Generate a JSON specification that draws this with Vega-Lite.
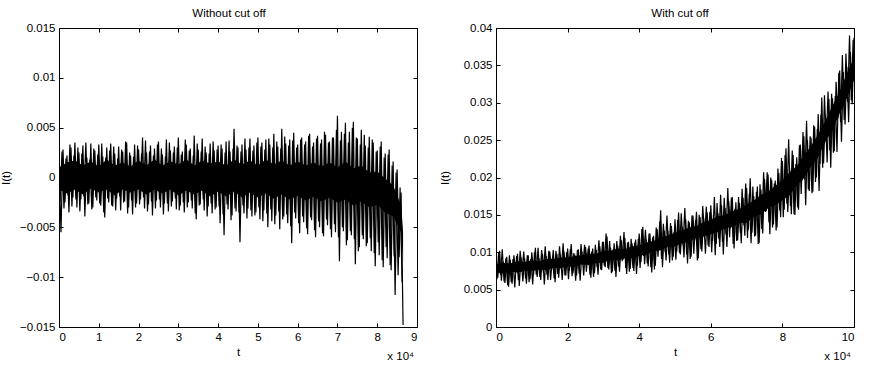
{
"$schema": "https://vega.github.io/schema/vega-lite/v6.json",
"padding": {"left": 0, "top": 7, "right": 5, "bottom": 5},
"bounds": "flush",
"spacing": 79,
"config": {
  "font": "Liberation Sans",
  "view": {"stroke": null},
  "axis": {"domainColor": "#000", "domainWidth": 1, "tickColor": "#000", "tickSize": -4, "tickWidth": 1, "labelFontSize": 11.5, "labelColor": "#000", "titleFontSize": 11.5, "titleFontWeight": "normal", "titleColor": "#000", "grid": false},
  "title": {"fontSize": 11.5, "fontWeight": "normal", "color": "#000", "offset": 3, "frame": "group"},
  "text": {"font": "Liberation Sans", "fontSize": 11.5}
},
"datasets": {
"a": [
{"s":1,"t":0,"v":0.0015},{"s":1,"t":0.05,"v":-0.0055},{"s":1,"t":0.1,"v":0.0028},{"s":1,"t":0.15,"v":-0.0025},{"s":1,"t":0.2,"v":0.0022},{"s":1,"t":0.25,"v":-0.0035},{"s":1,"t":0.3,"v":0.003},{"s":1,"t":0.35,"v":-0.002},{"s":1,"t":0.4,"v":0.0035},{"s":1,"t":0.45,"v":-0.003},
{"s":1,"t":0.5,"v":0.0025},{"s":1,"t":0.55,"v":-0.0022},{"s":1,"t":0.6,"v":0.0032},{"s":1,"t":0.65,"v":-0.0039},{"s":1,"t":0.7,"v":0.002},{"s":1,"t":0.75,"v":-0.0026},{"s":1,"t":0.8,"v":0.0034},{"s":1,"t":0.85,"v":-0.003},{"s":1,"t":0.9,"v":0.0027},{"s":1,"t":0.95,"v":-0.0023},
{"s":1,"t":1,"v":0.0033},{"s":1,"t":1.05,"v":-0.0028},{"s":1,"t":1.1,"v":0.0021},{"s":1,"t":1.15,"v":-0.004},{"s":1,"t":1.2,"v":0.003},{"s":1,"t":1.25,"v":-0.0025},{"s":1,"t":1.3,"v":0.0034},{"s":1,"t":1.35,"v":-0.0029},{"s":1,"t":1.4,"v":0.0024},{"s":1,"t":1.45,"v":-0.0021},
{"s":1,"t":1.5,"v":0.0031},{"s":1,"t":1.55,"v":-0.0033},{"s":1,"t":1.6,"v":0.0026},{"s":1,"t":1.65,"v":-0.0024},{"s":1,"t":1.7,"v":0.0035},{"s":1,"t":1.75,"v":-0.003},{"s":1,"t":1.8,"v":0.0022},{"s":1,"t":1.85,"v":-0.0037},{"s":1,"t":1.9,"v":0.0033},{"s":1,"t":1.95,"v":-0.0026},
{"s":1,"t":2,"v":0.0028},{"s":1,"t":2.05,"v":-0.0022},{"s":1,"t":2.1,"v":0.004},{"s":1,"t":2.15,"v":-0.0031},{"s":1,"t":2.2,"v":0.0025},{"s":1,"t":2.25,"v":-0.0027},{"s":1,"t":2.3,"v":0.0032},{"s":1,"t":2.35,"v":-0.0038},{"s":1,"t":2.4,"v":0.0029},{"s":1,"t":2.45,"v":-0.0023},
{"s":1,"t":2.5,"v":0.0036},{"s":1,"t":2.55,"v":-0.003},{"s":1,"t":2.6,"v":0.0023},{"s":1,"t":2.65,"v":-0.0026},{"s":1,"t":2.7,"v":0.0038},{"s":1,"t":2.75,"v":-0.0034},{"s":1,"t":2.8,"v":0.0027},{"s":1,"t":2.85,"v":-0.0024},{"s":1,"t":2.9,"v":0.0031},{"s":1,"t":2.95,"v":-0.0032},
{"s":1,"t":3,"v":0.004},{"s":1,"t":3.05,"v":-0.0028},{"s":1,"t":3.1,"v":0.0026},{"s":1,"t":3.15,"v":-0.0035},{"s":1,"t":3.2,"v":0.0033},{"s":1,"t":3.25,"v":-0.0025},{"s":1,"t":3.3,"v":0.0029},{"s":1,"t":3.35,"v":-0.0031},{"s":1,"t":3.4,"v":0.0042},{"s":1,"t":3.45,"v":-0.0042},
{"s":1,"t":3.5,"v":0.0028},{"s":1,"t":3.55,"v":-0.0027},{"s":1,"t":3.6,"v":0.0039},{"s":1,"t":3.65,"v":-0.0033},{"s":1,"t":3.7,"v":0.0025},{"s":1,"t":3.75,"v":-0.0029},{"s":1,"t":3.8,"v":0.0034},{"s":1,"t":3.85,"v":-0.0036},{"s":1,"t":3.9,"v":0.0027},{"s":1,"t":3.95,"v":-0.003},
{"s":1,"t":4,"v":0.0032},{"s":1,"t":4.05,"v":-0.0046},{"s":1,"t":4.1,"v":0.0029},{"s":1,"t":4.15,"v":-0.0058},{"s":1,"t":4.2,"v":0.0036},{"s":1,"t":4.25,"v":-0.0032},{"s":1,"t":4.3,"v":0.0026},{"s":1,"t":4.35,"v":-0.0038},{"s":1,"t":4.4,"v":0.0049},{"s":1,"t":4.45,"v":-0.0034},
{"s":1,"t":4.5,"v":0.003},{"s":1,"t":4.55,"v":-0.0065},{"s":1,"t":4.6,"v":0.0033},{"s":1,"t":4.65,"v":-0.0036},{"s":1,"t":4.7,"v":0.0028},{"s":1,"t":4.75,"v":-0.0031},{"s":1,"t":4.8,"v":0.0039},{"s":1,"t":4.85,"v":-0.0039},{"s":1,"t":4.9,"v":0.0032},{"s":1,"t":4.95,"v":-0.0035},
{"s":1,"t":5,"v":0.004},{"s":1,"t":5.05,"v":-0.0042},{"s":1,"t":5.1,"v":0.0035},{"s":1,"t":5.15,"v":-0.0033},{"s":1,"t":5.2,"v":0.0038},{"s":1,"t":5.25,"v":-0.005},{"s":1,"t":5.3,"v":0.0033},{"s":1,"t":5.35,"v":-0.0044},{"s":1,"t":5.4,"v":0.0044},{"s":1,"t":5.45,"v":-0.0038},
{"s":1,"t":5.5,"v":0.0031},{"s":1,"t":5.55,"v":-0.0052},{"s":1,"t":5.6,"v":0.0049},{"s":1,"t":5.65,"v":-0.0039},{"s":1,"t":5.7,"v":0.0034},{"s":1,"t":5.75,"v":-0.0046},{"s":1,"t":5.8,"v":0.0038},{"s":1,"t":5.85,"v":-0.0066},{"s":1,"t":5.9,"v":0.0045},{"s":1,"t":5.95,"v":-0.0041},
{"s":1,"t":6,"v":0.0033},{"s":1,"t":6.05,"v":-0.0056},{"s":1,"t":6.1,"v":0.004},{"s":1,"t":6.15,"v":-0.0045},{"s":1,"t":6.2,"v":0.0036},{"s":1,"t":6.25,"v":-0.0057},{"s":1,"t":6.3,"v":0.0044},{"s":1,"t":6.35,"v":-0.0043},{"s":1,"t":6.4,"v":0.0035},{"s":1,"t":6.45,"v":-0.006},
{"s":1,"t":6.5,"v":0.0042},{"s":1,"t":6.55,"v":-0.005},{"s":1,"t":6.6,"v":0.0038},{"s":1,"t":6.65,"v":-0.0059},{"s":1,"t":6.7,"v":0.0043},{"s":1,"t":6.75,"v":-0.0048},{"s":1,"t":6.8,"v":0.0036},{"s":1,"t":6.85,"v":-0.006},{"s":1,"t":6.9,"v":0.004},{"s":1,"t":6.95,"v":-0.0055},
{"s":1,"t":7,"v":0.0062},{"s":1,"t":7.05,"v":-0.0084},{"s":1,"t":7.1,"v":0.0046},{"s":1,"t":7.15,"v":-0.0054},{"s":1,"t":7.2,"v":0.0055},{"s":1,"t":7.25,"v":-0.0063},{"s":1,"t":7.3,"v":0.0046},{"s":1,"t":7.35,"v":-0.0058},{"s":1,"t":7.4,"v":0.0056},{"s":1,"t":7.45,"v":-0.0087},
{"s":1,"t":7.5,"v":0.0039},{"s":1,"t":7.55,"v":-0.007},{"s":1,"t":7.6,"v":0.0048},{"s":1,"t":7.65,"v":-0.0062},{"s":1,"t":7.7,"v":0.0032},{"s":1,"t":7.75,"v":-0.0066},{"s":1,"t":7.8,"v":0.0041},{"s":1,"t":7.85,"v":-0.0074},{"s":1,"t":7.9,"v":0.0035},{"s":1,"t":7.95,"v":-0.0089},
{"s":1,"t":8,"v":0.0027},{"s":1,"t":8.05,"v":-0.0078},{"s":1,"t":8.1,"v":0.0036},{"s":1,"t":8.15,"v":-0.009},{"s":1,"t":8.2,"v":0.0024},{"s":1,"t":8.25,"v":-0.0081},{"s":1,"t":8.3,"v":0.0028},{"s":1,"t":8.35,"v":-0.0093},{"s":1,"t":8.4,"v":0.0016},{"s":1,"t":8.45,"v":-0.0118},
{"s":1,"t":8.5,"v":0.0008},{"s":1,"t":8.55,"v":-0.008},{"s":1,"t":8.6,"v":-0.0015},{"s":1,"t":8.65,"v":-0.0148},
{"s":2,"t":0.025,"v":-0.0024},{"s":2,"t":0.075,"v":0.0026},{"s":2,"t":0.125,"v":-0.0031},{"s":2,"t":0.175,"v":0.0019},{"s":2,"t":0.225,"v":-0.0018},{"s":2,"t":0.275,"v":0.0033},{"s":2,"t":0.325,"v":-0.0029},{"s":2,"t":0.375,"v":0.0022},{"s":2,"t":0.425,"v":-0.0022},{"s":2,"t":0.475,"v":0.003},
{"s":2,"t":0.525,"v":-0.0034},{"s":2,"t":0.575,"v":0.0024},{"s":2,"t":0.625,"v":-0.0019},{"s":2,"t":0.675,"v":0.0035},{"s":2,"t":0.725,"v":-0.0027},{"s":2,"t":0.775,"v":0.0018},{"s":2,"t":0.825,"v":-0.0032},{"s":2,"t":0.875,"v":0.0029},{"s":2,"t":0.925,"v":-0.002},{"s":2,"t":0.975,"v":0.0023},
{"s":2,"t":1.025,"v":-0.0026},{"s":2,"t":1.075,"v":0.0034},{"s":2,"t":1.125,"v":-0.0035},{"s":2,"t":1.175,"v":0.002},{"s":2,"t":1.225,"v":-0.0021},{"s":2,"t":1.275,"v":0.0027},{"s":2,"t":1.325,"v":-0.0028},{"s":2,"t":1.375,"v":0.0031},{"s":2,"t":1.425,"v":-0.0033},{"s":2,"t":1.475,"v":0.0019},
{"s":2,"t":1.525,"v":-0.0019},{"s":2,"t":1.575,"v":0.0028},{"s":2,"t":1.625,"v":-0.0025},{"s":2,"t":1.675,"v":0.0036},{"s":2,"t":1.725,"v":-0.0036},{"s":2,"t":1.775,"v":0.0025},{"s":2,"t":1.825,"v":-0.0023},{"s":2,"t":1.875,"v":0.0021},{"s":2,"t":1.925,"v":-0.003},{"s":2,"t":1.975,"v":0.0032},
{"s":2,"t":2.025,"v":-0.0027},{"s":2,"t":2.075,"v":0.0024},{"s":2,"t":2.125,"v":-0.002},{"s":2,"t":2.175,"v":0.0037},{"s":2,"t":2.225,"v":-0.0034},{"s":2,"t":2.275,"v":0.0026},{"s":2,"t":2.325,"v":-0.0024},{"s":2,"t":2.375,"v":0.0022},{"s":2,"t":2.425,"v":-0.0031},{"s":2,"t":2.475,"v":0.0033},
{"s":2,"t":2.525,"v":-0.0022},{"s":2,"t":2.575,"v":0.0029},{"s":2,"t":2.625,"v":-0.0037},{"s":2,"t":2.675,"v":0.0021},{"s":2,"t":2.725,"v":-0.0026},{"s":2,"t":2.775,"v":0.0035},{"s":2,"t":2.825,"v":-0.0029},{"s":2,"t":2.875,"v":0.0025},{"s":2,"t":2.925,"v":-0.0021},{"s":2,"t":2.975,"v":0.003},
{"s":2,"t":3.025,"v":-0.0033},{"s":2,"t":3.075,"v":0.0023},{"s":2,"t":3.125,"v":-0.0025},{"s":2,"t":3.175,"v":0.0038},{"s":2,"t":3.225,"v":-0.003},{"s":2,"t":3.275,"v":0.0027},{"s":2,"t":3.325,"v":-0.0023},{"s":2,"t":3.375,"v":0.0022},{"s":2,"t":3.425,"v":-0.0036},{"s":2,"t":3.475,"v":0.0034},
{"s":2,"t":3.525,"v":-0.0028},{"s":2,"t":3.575,"v":0.0026},{"s":2,"t":3.625,"v":-0.0022},{"s":2,"t":3.675,"v":0.0031},{"s":2,"t":3.725,"v":-0.0039},{"s":2,"t":3.775,"v":0.0024},{"s":2,"t":3.825,"v":-0.0026},{"s":2,"t":3.875,"v":0.0036},{"s":2,"t":3.925,"v":-0.0032},{"s":2,"t":3.975,"v":0.0028},
{"s":2,"t":4.025,"v":-0.0029},{"s":2,"t":4.075,"v":0.0033},{"s":2,"t":4.125,"v":-0.0037},{"s":2,"t":4.175,"v":0.0025},{"s":2,"t":4.225,"v":-0.0027},{"s":2,"t":4.275,"v":0.0037},{"s":2,"t":4.325,"v":-0.0043},{"s":2,"t":4.375,"v":0.0029},{"s":2,"t":4.425,"v":-0.0031},{"s":2,"t":4.475,"v":0.0032},
{"s":2,"t":4.525,"v":-0.0035},{"s":2,"t":4.575,"v":0.0026},{"s":2,"t":4.625,"v":-0.0028},{"s":2,"t":4.675,"v":0.0039},{"s":2,"t":4.725,"v":-0.0041},{"s":2,"t":4.775,"v":0.003},{"s":2,"t":4.825,"v":-0.0033},{"s":2,"t":4.875,"v":0.0027},{"s":2,"t":4.925,"v":-0.0038},{"s":2,"t":4.975,"v":0.0035},
{"s":2,"t":5.025,"v":-0.003},{"s":2,"t":5.075,"v":0.0031},{"s":2,"t":5.125,"v":-0.0044},{"s":2,"t":5.175,"v":0.0028},{"s":2,"t":5.225,"v":-0.0036},{"s":2,"t":5.275,"v":0.0039},{"s":2,"t":5.325,"v":-0.0032},{"s":2,"t":5.375,"v":0.003},{"s":2,"t":5.425,"v":-0.0047},{"s":2,"t":5.475,"v":0.0036},
{"s":2,"t":5.525,"v":-0.0034},{"s":2,"t":5.575,"v":0.0029},{"s":2,"t":5.625,"v":-0.0042},{"s":2,"t":5.675,"v":0.0041},{"s":2,"t":5.725,"v":-0.0037},{"s":2,"t":5.775,"v":0.0032},{"s":2,"t":5.825,"v":-0.0049},{"s":2,"t":5.875,"v":0.0037},{"s":2,"t":5.925,"v":-0.0035},{"s":2,"t":5.975,"v":0.003},
{"s":2,"t":6.025,"v":-0.0046},{"s":2,"t":6.075,"v":0.0038},{"s":2,"t":6.125,"v":-0.0039},{"s":2,"t":6.175,"v":0.0033},{"s":2,"t":6.225,"v":-0.0051},{"s":2,"t":6.275,"v":0.0042},{"s":2,"t":6.325,"v":-0.004},{"s":2,"t":6.375,"v":0.0031},{"s":2,"t":6.425,"v":-0.0053},{"s":2,"t":6.475,"v":0.0039},
{"s":2,"t":6.525,"v":-0.0044},{"s":2,"t":6.575,"v":0.0034},{"s":2,"t":6.625,"v":-0.0056},{"s":2,"t":6.675,"v":0.0046},{"s":2,"t":6.725,"v":-0.0042},{"s":2,"t":6.775,"v":0.0035},{"s":2,"t":6.825,"v":-0.0052},{"s":2,"t":6.875,"v":0.004},{"s":2,"t":6.925,"v":-0.0047},{"s":2,"t":6.975,"v":0.0048},
{"s":2,"t":7.025,"v":-0.006},{"s":2,"t":7.075,"v":0.0037},{"s":2,"t":7.125,"v":-0.005},{"s":2,"t":7.175,"v":0.0044},{"s":2,"t":7.225,"v":-0.0068},{"s":2,"t":7.275,"v":0.0035},{"s":2,"t":7.325,"v":-0.0054},{"s":2,"t":7.375,"v":0.005},{"s":2,"t":7.425,"v":-0.0062},{"s":2,"t":7.475,"v":0.004},
{"s":2,"t":7.525,"v":-0.0074},{"s":2,"t":7.575,"v":0.0033},{"s":2,"t":7.625,"v":-0.0058},{"s":2,"t":7.675,"v":0.0043},{"s":2,"t":7.725,"v":-0.0069},{"s":2,"t":7.775,"v":0.003},{"s":2,"t":7.825,"v":-0.0061},{"s":2,"t":7.875,"v":0.0038},{"s":2,"t":7.925,"v":-0.0076},{"s":2,"t":7.975,"v":0.0026},
{"s":2,"t":8.025,"v":-0.0065},{"s":2,"t":8.075,"v":0.0031},{"s":2,"t":8.125,"v":-0.0083},{"s":2,"t":8.175,"v":0.002},{"s":2,"t":8.225,"v":-0.007},{"s":2,"t":8.275,"v":0.0023},{"s":2,"t":8.325,"v":-0.0088},{"s":2,"t":8.375,"v":0.0012},{"s":2,"t":8.425,"v":-0.0079},{"s":2,"t":8.475,"v":0.0005},
{"s":2,"t":8.525,"v":-0.0098},{"s":2,"t":8.575,"v":-0.001},{"s":2,"t":8.625,"v":-0.0105}
],
"ac": [
{"t":0,"lo":-0.0012,"hi":0.001},{"t":0.2,"lo":-0.0016,"hi":0.0015},{"t":0.4,"lo":-0.0012,"hi":0.0017},{"t":0.6,"lo":-0.0017,"hi":0.0012},{"t":0.8,"lo":-0.0011,"hi":0.0016},
{"t":1,"lo":-0.0015,"hi":0.0011},{"t":1.2,"lo":-0.0012,"hi":0.0018},{"t":1.4,"lo":-0.0018,"hi":0.0012},{"t":1.6,"lo":-0.0012,"hi":0.0015},{"t":1.8,"lo":-0.0015,"hi":0.0011},
{"t":2,"lo":-0.0012,"hi":0.0017},{"t":2.2,"lo":-0.0017,"hi":0.0012},{"t":2.4,"lo":-0.0012,"hi":0.0018},{"t":2.6,"lo":-0.0016,"hi":0.0012},{"t":2.8,"lo":-0.0012,"hi":0.0016},
{"t":3,"lo":-0.0018,"hi":0.0013},{"t":3.2,"lo":-0.0013,"hi":0.0018},{"t":3.4,"lo":-0.0017,"hi":0.0012},{"t":3.6,"lo":-0.0013,"hi":0.0017},{"t":3.8,"lo":-0.0019,"hi":0.0014},
{"t":4,"lo":-0.0014,"hi":0.0016},{"t":4.2,"lo":-0.0019,"hi":0.0012},{"t":4.4,"lo":-0.0014,"hi":0.0018},{"t":4.6,"lo":-0.002,"hi":0.0013},{"t":4.8,"lo":-0.0015,"hi":0.0017},
{"t":5,"lo":-0.002,"hi":0.0012},{"t":5.2,"lo":-0.0016,"hi":0.0018},{"t":5.4,"lo":-0.0021,"hi":0.0013},{"t":5.6,"lo":-0.0017,"hi":0.0017},{"t":5.8,"lo":-0.0022,"hi":0.0012},
{"t":6,"lo":-0.0018,"hi":0.0016},{"t":6.2,"lo":-0.0023,"hi":0.0012},{"t":6.4,"lo":-0.0019,"hi":0.0015},{"t":6.6,"lo":-0.0024,"hi":0.0011},{"t":6.8,"lo":-0.002,"hi":0.0015},
{"t":7,"lo":-0.0025,"hi":0.001},{"t":7.2,"lo":-0.0022,"hi":0.0016},{"t":7.4,"lo":-0.0028,"hi":0.0009},{"t":7.6,"lo":-0.0024,"hi":0.0012},{"t":7.8,"lo":-0.003,"hi":0.0005},
{"t":8,"lo":-0.0027,"hi":0.0006},{"t":8.2,"lo":-0.0035,"hi":-0.0001},{"t":8.4,"lo":-0.0039,"hi":-0.0008},{"t":8.6,"lo":-0.0055,"hi":-0.0028},{"t":8.65,"lo":-0.0085,"hi":-0.0055}
],
"b": [
{"s":1,"t":0,"v":0.0096},{"s":1,"t":0.05,"v":0.0066},{"s":1,"t":0.1,"v":0.0102},{"s":1,"t":0.15,"v":0.0062},{"s":1,"t":0.2,"v":0.0088},{"s":1,"t":0.25,"v":0.0059},{"s":1,"t":0.3,"v":0.0094},{"s":1,"t":0.35,"v":0.0054},{"s":1,"t":0.4,"v":0.009},{"s":1,"t":0.45,"v":0.0058},
{"s":1,"t":0.5,"v":0.0096},{"s":1,"t":0.55,"v":0.0073},{"s":1,"t":0.6,"v":0.0098},{"s":1,"t":0.65,"v":0.0055},{"s":1,"t":0.7,"v":0.0093},{"s":1,"t":0.75,"v":0.0061},{"s":1,"t":0.8,"v":0.0092},{"s":1,"t":0.85,"v":0.0058},{"s":1,"t":0.9,"v":0.0096},{"s":1,"t":0.95,"v":0.0064},
{"s":1,"t":1,"v":0.01},{"s":1,"t":1.05,"v":0.007},{"s":1,"t":1.1,"v":0.0106},{"s":1,"t":1.15,"v":0.0067},{"s":1,"t":1.2,"v":0.0092},{"s":1,"t":1.25,"v":0.0063},{"s":1,"t":1.3,"v":0.0098},{"s":1,"t":1.35,"v":0.0057},{"s":1,"t":1.4,"v":0.0095},{"s":1,"t":1.45,"v":0.0063},
{"s":1,"t":1.5,"v":0.0101},{"s":1,"t":1.55,"v":0.0078},{"s":1,"t":1.6,"v":0.0103},{"s":1,"t":1.65,"v":0.006},{"s":1,"t":1.7,"v":0.0098},{"s":1,"t":1.75,"v":0.0066},{"s":1,"t":1.8,"v":0.0097},{"s":1,"t":1.85,"v":0.0063},{"s":1,"t":1.9,"v":0.0101},{"s":1,"t":1.95,"v":0.0069},
{"s":1,"t":2,"v":0.0105},{"s":1,"t":2.05,"v":0.0075},{"s":1,"t":2.1,"v":0.0111},{"s":1,"t":2.15,"v":0.0072},{"s":1,"t":2.2,"v":0.0097},{"s":1,"t":2.25,"v":0.0069},{"s":1,"t":2.3,"v":0.0104},{"s":1,"t":2.35,"v":0.0062},{"s":1,"t":2.4,"v":0.0101},{"s":1,"t":2.45,"v":0.0069},
{"s":1,"t":2.5,"v":0.0107},{"s":1,"t":2.55,"v":0.0084},{"s":1,"t":2.6,"v":0.0109},{"s":1,"t":2.65,"v":0.0066},{"s":1,"t":2.7,"v":0.0105},{"s":1,"t":2.75,"v":0.0072},{"s":1,"t":2.8,"v":0.0103},{"s":1,"t":2.85,"v":0.007},{"s":1,"t":2.9,"v":0.0108},{"s":1,"t":2.95,"v":0.0076},
{"s":1,"t":3,"v":0.0114},{"s":1,"t":3.05,"v":0.008},{"s":1,"t":3.1,"v":0.0121},{"s":1,"t":3.15,"v":0.0077},{"s":1,"t":3.2,"v":0.0106},{"s":1,"t":3.25,"v":0.0074},{"s":1,"t":3.3,"v":0.0112},{"s":1,"t":3.35,"v":0.0067},{"s":1,"t":3.4,"v":0.0109},{"s":1,"t":3.45,"v":0.0074},
{"s":1,"t":3.5,"v":0.0116},{"s":1,"t":3.55,"v":0.009},{"s":1,"t":3.6,"v":0.0119},{"s":1,"t":3.65,"v":0.0071},{"s":1,"t":3.7,"v":0.0114},{"s":1,"t":3.75,"v":0.0078},{"s":1,"t":3.8,"v":0.0112},{"s":1,"t":3.85,"v":0.0075},{"s":1,"t":3.9,"v":0.0117},{"s":1,"t":3.95,"v":0.0082},
{"s":1,"t":4,"v":0.0125},{"s":1,"t":4.05,"v":0.0087},{"s":1,"t":4.1,"v":0.0134},{"s":1,"t":4.15,"v":0.0084},{"s":1,"t":4.2,"v":0.0117},{"s":1,"t":4.25,"v":0.0081},{"s":1,"t":4.3,"v":0.0125},{"s":1,"t":4.35,"v":0.0073},{"s":1,"t":4.4,"v":0.0122},{"s":1,"t":4.45,"v":0.0082},
{"s":1,"t":4.5,"v":0.0131},{"s":1,"t":4.55,"v":0.0102},{"s":1,"t":4.6,"v":0.0156},{"s":1,"t":4.65,"v":0.008},{"s":1,"t":4.7,"v":0.0129},{"s":1,"t":4.75,"v":0.0089},{"s":1,"t":4.8,"v":0.0129},{"s":1,"t":4.85,"v":0.0086},{"s":1,"t":4.9,"v":0.0135},{"s":1,"t":4.95,"v":0.0094},
{"s":1,"t":5,"v":0.0144},{"s":1,"t":5.05,"v":0.0101},{"s":1,"t":5.1,"v":0.0153},{"s":1,"t":5.15,"v":0.0097},{"s":1,"t":5.2,"v":0.0134},{"s":1,"t":5.25,"v":0.0093},{"s":1,"t":5.3,"v":0.0144},{"s":1,"t":5.35,"v":0.0085},{"s":1,"t":5.4,"v":0.014},{"s":1,"t":5.45,"v":0.0094},
{"s":1,"t":5.5,"v":0.0149},{"s":1,"t":5.55,"v":0.0116},{"s":1,"t":5.6,"v":0.0154},{"s":1,"t":5.65,"v":0.0092},{"s":1,"t":5.7,"v":0.0147},{"s":1,"t":5.75,"v":0.0101},{"s":1,"t":5.8,"v":0.0146},{"s":1,"t":5.85,"v":0.0098},{"s":1,"t":5.9,"v":0.0153},{"s":1,"t":5.95,"v":0.0107},
{"s":1,"t":6,"v":0.0163},{"s":1,"t":6.05,"v":0.0115},{"s":1,"t":6.1,"v":0.0174},{"s":1,"t":6.15,"v":0.0111},{"s":1,"t":6.2,"v":0.0152},{"s":1,"t":6.25,"v":0.0107},{"s":1,"t":6.3,"v":0.0163},{"s":1,"t":6.35,"v":0.0097},{"s":1,"t":6.4,"v":0.0159},{"s":1,"t":6.45,"v":0.0107},
{"s":1,"t":6.5,"v":0.0169},{"s":1,"t":6.55,"v":0.0132},{"s":1,"t":6.6,"v":0.0174},{"s":1,"t":6.65,"v":0.0105},{"s":1,"t":6.7,"v":0.0167},{"s":1,"t":6.75,"v":0.0116},{"s":1,"t":6.8,"v":0.0166},{"s":1,"t":6.85,"v":0.0112},{"s":1,"t":6.9,"v":0.0173},{"s":1,"t":6.95,"v":0.0122},
{"s":1,"t":7,"v":0.0186},{"s":1,"t":7.05,"v":0.013},{"s":1,"t":7.1,"v":0.0199},{"s":1,"t":7.15,"v":0.0126},{"s":1,"t":7.2,"v":0.0175},{"s":1,"t":7.25,"v":0.0122},{"s":1,"t":7.3,"v":0.0188},{"s":1,"t":7.35,"v":0.0112},{"s":1,"t":7.4,"v":0.0184},{"s":1,"t":7.45,"v":0.0125},
{"s":1,"t":7.5,"v":0.0198},{"s":1,"t":7.55,"v":0.0155},{"s":1,"t":7.6,"v":0.0204},{"s":1,"t":7.65,"v":0.0124},{"s":1,"t":7.7,"v":0.0197},{"s":1,"t":7.75,"v":0.0137},{"s":1,"t":7.8,"v":0.0196},{"s":1,"t":7.85,"v":0.0133},{"s":1,"t":7.9,"v":0.0206},{"s":1,"t":7.95,"v":0.0147},
{"s":1,"t":8,"v":0.0222},{"s":1,"t":8.05,"v":0.0157},{"s":1,"t":8.1,"v":0.0239},{"s":1,"t":8.15,"v":0.0154},{"s":1,"t":8.2,"v":0.0212},{"s":1,"t":8.25,"v":0.0151},{"s":1,"t":8.3,"v":0.023},{"s":1,"t":8.35,"v":0.015},{"s":1,"t":8.4,"v":0.0227},{"s":1,"t":8.45,"v":0.0157},
{"s":1,"t":8.5,"v":0.0244},{"s":1,"t":8.55,"v":0.0196},{"s":1,"t":8.6,"v":0.0255},{"s":1,"t":8.65,"v":0.0163},{"s":1,"t":8.7,"v":0.025},{"s":1,"t":8.75,"v":0.0182},{"s":1,"t":8.8,"v":0.0253},{"s":1,"t":8.85,"v":0.0181},{"s":1,"t":8.9,"v":0.0268},{"s":1,"t":8.95,"v":0.02},
{"s":1,"t":9,"v":0.0285},{"s":1,"t":9.05,"v":0.0218},{"s":1,"t":9.1,"v":0.0307},{"s":1,"t":9.15,"v":0.0219},{"s":1,"t":9.2,"v":0.0283},{"s":1,"t":9.25,"v":0.022},{"s":1,"t":9.3,"v":0.0305},{"s":1,"t":9.35,"v":0.0213},{"s":1,"t":9.4,"v":0.0306},{"s":1,"t":9.45,"v":0.0235},
{"s":1,"t":9.5,"v":0.0328},{"s":1,"t":9.55,"v":0.0279},{"s":1,"t":9.6,"v":0.0343},{"s":1,"t":9.65,"v":0.0248},{"s":1,"t":9.7,"v":0.0341},{"s":1,"t":9.75,"v":0.0271},{"s":1,"t":9.8,"v":0.0348},{"s":1,"t":9.85,"v":0.0274},{"s":1,"t":9.9,"v":0.0368},{"s":1,"t":9.95,"v":0.0298},
{"s":1,"t":10,"v":0.0387},
{"s":2,"t":0.025,"v":0.0064},{"s":2,"t":0.075,"v":0.01},{"s":2,"t":0.125,"v":0.007},{"s":2,"t":0.175,"v":0.0104},{"s":2,"t":0.225,"v":0.0061},{"s":2,"t":0.275,"v":0.0092},{"s":2,"t":0.325,"v":0.0056},{"s":2,"t":0.375,"v":0.0096},{"s":2,"t":0.425,"v":0.006},{"s":2,"t":0.475,"v":0.0091},
{"s":2,"t":0.525,"v":0.0053},{"s":2,"t":0.575,"v":0.0095},{"s":2,"t":0.625,"v":0.0063},{"s":2,"t":0.675,"v":0.0102},{"s":2,"t":0.725,"v":0.0074},{"s":2,"t":0.775,"v":0.0101},{"s":2,"t":0.825,"v":0.0065},{"s":2,"t":0.875,"v":0.0096},{"s":2,"t":0.925,"v":0.006},{"s":2,"t":0.975,"v":0.0091},
{"s":2,"t":1.025,"v":0.0057},{"s":2,"t":1.075,"v":0.01},{"s":2,"t":1.125,"v":0.007},{"s":2,"t":1.175,"v":0.0106},{"s":2,"t":1.225,"v":0.0067},{"s":2,"t":1.275,"v":0.0103},{"s":2,"t":1.325,"v":0.0073},{"s":2,"t":1.375,"v":0.0108},{"s":2,"t":1.425,"v":0.007},{"s":2,"t":1.475,"v":0.0102},
{"s":2,"t":1.525,"v":0.0063},{"s":2,"t":1.575,"v":0.0092},{"s":2,"t":1.625,"v":0.0065},{"s":2,"t":1.675,"v":0.0102},{"s":2,"t":1.725,"v":0.0071},{"s":2,"t":1.775,"v":0.0108},{"s":2,"t":1.825,"v":0.0077},{"s":2,"t":1.875,"v":0.0112},{"s":2,"t":1.925,"v":0.0069},{"s":2,"t":1.975,"v":0.01},
{"s":2,"t":2.025,"v":0.0064},{"s":2,"t":2.075,"v":0.0104},{"s":2,"t":2.125,"v":0.0068},{"s":2,"t":2.175,"v":0.0099},{"s":2,"t":2.225,"v":0.0062},{"s":2,"t":2.275,"v":0.0103},{"s":2,"t":2.325,"v":0.0071},{"s":2,"t":2.375,"v":0.0111},{"s":2,"t":2.425,"v":0.0083},{"s":2,"t":2.475,"v":0.011},
{"s":2,"t":2.525,"v":0.0074},{"s":2,"t":2.575,"v":0.0105},{"s":2,"t":2.625,"v":0.007},{"s":2,"t":2.675,"v":0.0101},{"s":2,"t":2.725,"v":0.0067},{"s":2,"t":2.775,"v":0.011},{"s":2,"t":2.825,"v":0.008},{"s":2,"t":2.875,"v":0.0116},{"s":2,"t":2.925,"v":0.0077},{"s":2,"t":2.975,"v":0.0114},
{"s":2,"t":3.025,"v":0.0082},{"s":2,"t":3.075,"v":0.0125},{"s":2,"t":3.125,"v":0.0079},{"s":2,"t":3.175,"v":0.0115},{"s":2,"t":3.225,"v":0.0072},{"s":2,"t":3.275,"v":0.0104},{"s":2,"t":3.325,"v":0.0075},{"s":2,"t":3.375,"v":0.0115},{"s":2,"t":3.425,"v":0.0081},{"s":2,"t":3.475,"v":0.0122},
{"s":2,"t":3.525,"v":0.0088},{"s":2,"t":3.575,"v":0.0127},{"s":2,"t":3.625,"v":0.0079},{"s":2,"t":3.675,"v":0.0113},{"s":2,"t":3.725,"v":0.0074},{"s":2,"t":3.775,"v":0.0118},{"s":2,"t":3.825,"v":0.0079},{"s":2,"t":3.875,"v":0.0113},{"s":2,"t":3.925,"v":0.0071},{"s":2,"t":3.975,"v":0.0118},
{"s":2,"t":4.025,"v":0.0079},{"s":2,"t":4.075,"v":0.0131},{"s":2,"t":4.125,"v":0.0095},{"s":2,"t":4.175,"v":0.013},{"s":2,"t":4.225,"v":0.0085},{"s":2,"t":4.275,"v":0.0125},{"s":2,"t":4.325,"v":0.008},{"s":2,"t":4.375,"v":0.012},{"s":2,"t":4.425,"v":0.0077},{"s":2,"t":4.475,"v":0.0133},
{"s":2,"t":4.525,"v":0.0094},{"s":2,"t":4.575,"v":0.0141},{"s":2,"t":4.625,"v":0.0091},{"s":2,"t":4.675,"v":0.0138},{"s":2,"t":4.725,"v":0.01},{"s":2,"t":4.775,"v":0.0149},{"s":2,"t":4.825,"v":0.0097},{"s":2,"t":4.875,"v":0.0139},{"s":2,"t":4.925,"v":0.0089},{"s":2,"t":4.975,"v":0.0127},
{"s":2,"t":5.025,"v":0.009},{"s":2,"t":5.075,"v":0.0143},{"s":2,"t":5.125,"v":0.0099},{"s":2,"t":5.175,"v":0.0152},{"s":2,"t":5.225,"v":0.0109},{"s":2,"t":5.275,"v":0.0159},{"s":2,"t":5.325,"v":0.0097},{"s":2,"t":5.375,"v":0.0142},{"s":2,"t":5.425,"v":0.0091},{"s":2,"t":5.475,"v":0.0149},
{"s":2,"t":5.525,"v":0.0098},{"s":2,"t":5.575,"v":0.0143},{"s":2,"t":5.625,"v":0.0089},{"s":2,"t":5.675,"v":0.015},{"s":2,"t":5.725,"v":0.0104},{"s":2,"t":5.775,"v":0.0162},{"s":2,"t":5.825,"v":0.0121},{"s":2,"t":5.875,"v":0.0161},{"s":2,"t":5.925,"v":0.0109},{"s":2,"t":5.975,"v":0.0154},
{"s":2,"t":6.025,"v":0.01},{"s":2,"t":6.075,"v":0.015},{"s":2,"t":6.125,"v":0.0096},{"s":2,"t":6.175,"v":0.0166},{"s":2,"t":6.225,"v":0.0118},{"s":2,"t":6.275,"v":0.0177},{"s":2,"t":6.325,"v":0.0114},{"s":2,"t":6.375,"v":0.0173},{"s":2,"t":6.425,"v":0.0124},{"s":2,"t":6.475,"v":0.0186},
{"s":2,"t":6.525,"v":0.012},{"s":2,"t":6.575,"v":0.0173},{"s":2,"t":6.625,"v":0.0111},{"s":2,"t":6.675,"v":0.0158},{"s":2,"t":6.725,"v":0.0115},{"s":2,"t":6.775,"v":0.0174},{"s":2,"t":6.825,"v":0.0126},{"s":2,"t":6.875,"v":0.0185},{"s":2,"t":6.925,"v":0.0136},{"s":2,"t":6.975,"v":0.0192},
{"s":2,"t":7.025,"v":0.0119},{"s":2,"t":7.075,"v":0.0178},{"s":2,"t":7.125,"v":0.0112},{"s":2,"t":7.175,"v":0.0188},{"s":2,"t":7.225,"v":0.0121},{"s":2,"t":7.275,"v":0.0181},{"s":2,"t":7.325,"v":0.0111},{"s":2,"t":7.375,"v":0.0191},{"s":2,"t":7.425,"v":0.0131},{"s":2,"t":7.475,"v":0.0207},
{"s":2,"t":7.525,"v":0.0154},{"s":2,"t":7.575,"v":0.0207},{"s":2,"t":7.625,"v":0.014},{"s":2,"t":7.675,"v":0.02},{"s":2,"t":7.725,"v":0.0133},{"s":2,"t":7.775,"v":0.0192},{"s":2,"t":7.825,"v":0.0129},{"s":2,"t":7.875,"v":0.0212},{"s":2,"t":7.925,"v":0.0156},{"s":2,"t":7.975,"v":0.0226},
{"s":2,"t":8.025,"v":0.0147},{"s":2,"t":8.075,"v":0.023},{"s":2,"t":8.125,"v":0.0165},{"s":2,"t":8.175,"v":0.0251},{"s":2,"t":8.225,"v":0.0162},{"s":2,"t":8.275,"v":0.0236},{"s":2,"t":8.325,"v":0.0151},{"s":2,"t":8.375,"v":0.0218},{"s":2,"t":8.425,"v":0.016},{"s":2,"t":8.475,"v":0.0243},
{"s":2,"t":8.525,"v":0.0178},{"s":2,"t":8.575,"v":0.0261},{"s":2,"t":8.625,"v":0.0197},{"s":2,"t":8.675,"v":0.0276},{"s":2,"t":8.725,"v":0.0184},{"s":2,"t":8.775,"v":0.0255},{"s":2,"t":8.825,"v":0.0179},{"s":2,"t":8.875,"v":0.027},{"s":2,"t":8.925,"v":0.0194},{"s":2,"t":8.975,"v":0.0265},
{"s":2,"t":9.025,"v":0.0182},{"s":2,"t":9.075,"v":0.0284},{"s":2,"t":9.125,"v":0.0213},{"s":2,"t":9.175,"v":0.031},{"s":2,"t":9.225,"v":0.0247},{"s":2,"t":9.275,"v":0.0315},{"s":2,"t":9.325,"v":0.0236},{"s":2,"t":9.375,"v":0.0312},{"s":2,"t":9.425,"v":0.0233},{"s":2,"t":9.475,"v":0.0309},
{"s":2,"t":9.525,"v":0.0234},{"s":2,"t":9.575,"v":0.034},{"s":2,"t":9.625,"v":0.0274},{"s":2,"t":9.675,"v":0.0364},{"s":2,"t":9.725,"v":0.0277},{"s":2,"t":9.775,"v":0.0366},{"s":2,"t":9.825,"v":0.0301},{"s":2,"t":9.875,"v":0.039},{"s":2,"t":9.925,"v":0.0303},{"s":2,"t":9.975,"v":0.0384}
],
"bc": [
{"t":0,"lo":0.0073,"hi":0.0084},{"t":0.2,"lo":0.0072,"hi":0.0086},{"t":0.4,"lo":0.0074,"hi":0.0085},{"t":0.6,"lo":0.0073,"hi":0.0088},{"t":0.8,"lo":0.0075,"hi":0.0087},
{"t":1,"lo":0.0075,"hi":0.0089},{"t":1.2,"lo":0.0077,"hi":0.0088},{"t":1.4,"lo":0.0076,"hi":0.0091},{"t":1.6,"lo":0.0079,"hi":0.0091},{"t":1.8,"lo":0.0079,"hi":0.0093},
{"t":2,"lo":0.0081,"hi":0.0093},{"t":2.2,"lo":0.0081,"hi":0.0095},{"t":2.4,"lo":0.0084,"hi":0.0096},{"t":2.6,"lo":0.0083,"hi":0.0098},{"t":2.8,"lo":0.0086,"hi":0.0098},
{"t":3,"lo":0.0086,"hi":0.0102},{"t":3.2,"lo":0.009,"hi":0.0102},{"t":3.4,"lo":0.0089,"hi":0.0105},{"t":3.6,"lo":0.0092,"hi":0.0104},{"t":3.8,"lo":0.0092,"hi":0.0108},
{"t":4,"lo":0.0095,"hi":0.0109},{"t":4.2,"lo":0.0097,"hi":0.0113},{"t":4.4,"lo":0.0101,"hi":0.0115},{"t":4.6,"lo":0.0103,"hi":0.012},{"t":4.8,"lo":0.0107,"hi":0.0122},
{"t":5,"lo":0.0108,"hi":0.0126},{"t":5.2,"lo":0.0112,"hi":0.0129},{"t":5.4,"lo":0.0114,"hi":0.0133},{"t":5.6,"lo":0.0119,"hi":0.0135},{"t":5.8,"lo":0.0121,"hi":0.014},
{"t":6,"lo":0.0124,"hi":0.0143},{"t":6.2,"lo":0.0127,"hi":0.0148},{"t":6.4,"lo":0.0132,"hi":0.015},{"t":6.6,"lo":0.0134,"hi":0.0155},{"t":6.8,"lo":0.0139,"hi":0.0158},
{"t":7,"lo":0.0139,"hi":0.0164},{"t":7.2,"lo":0.0147,"hi":0.0169},{"t":7.4,"lo":0.0151,"hi":0.0177},{"t":7.6,"lo":0.0159,"hi":0.0181},{"t":7.8,"lo":0.0163,"hi":0.0189},
{"t":8,"lo":0.017,"hi":0.0196},{"t":8.2,"lo":0.0176,"hi":0.0207},{"t":8.4,"lo":0.019,"hi":0.0215},{"t":8.6,"lo":0.0199,"hi":0.0229},{"t":8.8,"lo":0.0215,"hi":0.0242},
{"t":9,"lo":0.0227,"hi":0.0258},{"t":9.2,"lo":0.0248,"hi":0.0276},{"t":9.4,"lo":0.0264,"hi":0.0296},{"t":9.6,"lo":0.0286,"hi":0.0315},{"t":9.8,"lo":0.0306,"hi":0.0339},
{"t":10,"lo":0.033,"hi":0.036}
]
},
"hconcat": [
 {
  "width": 358, "height": 299,
  "title": {"text": "Without cut off", "dx": -9},
  "layer": [
   {"data": {"name": "ac"},
    "mark": {"type": "area", "color": "#000", "clip": true},
    "encoding": {
     "x": {"field": "t", "type": "quantitative", "scale": {"domain": [0, 9], "nice": false, "zero": false}, "axis": null},
     "y": {"field": "lo", "type": "quantitative", "scale": {"domain": [-0.015, 0.015], "nice": false, "zero": false}, "axis": null},
     "y2": {"field": "hi"}
    }},
   {"data": {"name": "a"},
    "mark": {"type": "line", "color": "#000", "strokeWidth": 1.2, "clip": true},
    "encoding": {
     "detail": {"field": "s", "type": "nominal"},
     "x": {"field": "t", "type": "quantitative", "scale": {"domain": [0, 9], "nice": false, "zero": false},
           "axis": {"orient": "bottom", "values": [0,1,2,3,4,5,6,7,8,9], "format": "d", "title": "t", "labelPadding": 8, "titleBaseline": "middle", "titleY": 25}},
     "y": {"field": "v", "type": "quantitative", "scale": {"domain": [-0.015, 0.015], "nice": false, "zero": false},
           "axis": {"orient": "left", "values": [-0.015,-0.01,-0.005,0,0.005,0.01,0.015], "format": ".3~f", "title": "I(t)", "labelPadding": 8, "titleBaseline": "middle", "titleX": -53}}
    }},
   {"data": {"values": [{}]},
    "mark": {"type": "text", "text": "x 10⁴", "align": "right", "baseline": "middle", "dx": -3, "dy": 30, "color": "#000"},
    "encoding": {
     "x": {"datum": 9, "type": "quantitative", "axis": {"orient": "top", "values": [0,1,2,3,4,5,6,7,8,9], "labels": false, "title": null}},
     "y": {"datum": -0.015, "type": "quantitative", "axis": {"orient": "right", "values": [-0.015,-0.01,-0.005,0,0.005,0.01,0.015], "labels": false, "title": null}}
    }}
  ]
 },
 {
  "width": 358, "height": 299,
  "title": {"text": "With cut off", "dx": 5},
  "layer": [
   {"data": {"name": "bc"},
    "mark": {"type": "area", "color": "#000", "clip": true},
    "encoding": {
     "x": {"field": "t", "type": "quantitative", "scale": {"domain": [0, 10], "nice": false, "zero": false}, "axis": null},
     "y": {"field": "lo", "type": "quantitative", "scale": {"domain": [0, 0.04], "nice": false, "zero": false}, "axis": null},
     "y2": {"field": "hi"}
    }},
   {"data": {"name": "b"},
    "mark": {"type": "line", "color": "#000", "strokeWidth": 1.2, "clip": true},
    "encoding": {
     "detail": {"field": "s", "type": "nominal"},
     "x": {"field": "t", "type": "quantitative", "scale": {"domain": [0, 10], "nice": false, "zero": false},
           "axis": {"orient": "bottom", "values": [0,2,4,6,8,10], "format": "d", "title": "t", "labelPadding": 8, "titleBaseline": "middle", "titleY": 25}},
     "y": {"field": "v", "type": "quantitative", "scale": {"domain": [0, 0.04], "nice": false, "zero": false},
           "axis": {"orient": "left", "values": [0,0.005,0.01,0.015,0.02,0.025,0.03,0.035,0.04], "format": ".3~f", "title": "I(t)", "labelPadding": 8, "titleBaseline": "middle", "titleX": -51}}
    }},
   {"data": {"values": [{}]},
    "mark": {"type": "text", "text": "x 10⁴", "align": "right", "baseline": "middle", "dx": -3, "dy": 30, "color": "#000"},
    "encoding": {
     "x": {"datum": 10, "type": "quantitative", "axis": {"orient": "top", "values": [0,2,4,6,8,10], "labels": false, "title": null}},
     "y": {"datum": 0, "type": "quantitative", "axis": {"orient": "right", "values": [0,0.005,0.01,0.015,0.02,0.025,0.03,0.035,0.04], "labels": false, "title": null}}
    }}
  ]
 }
]
}
